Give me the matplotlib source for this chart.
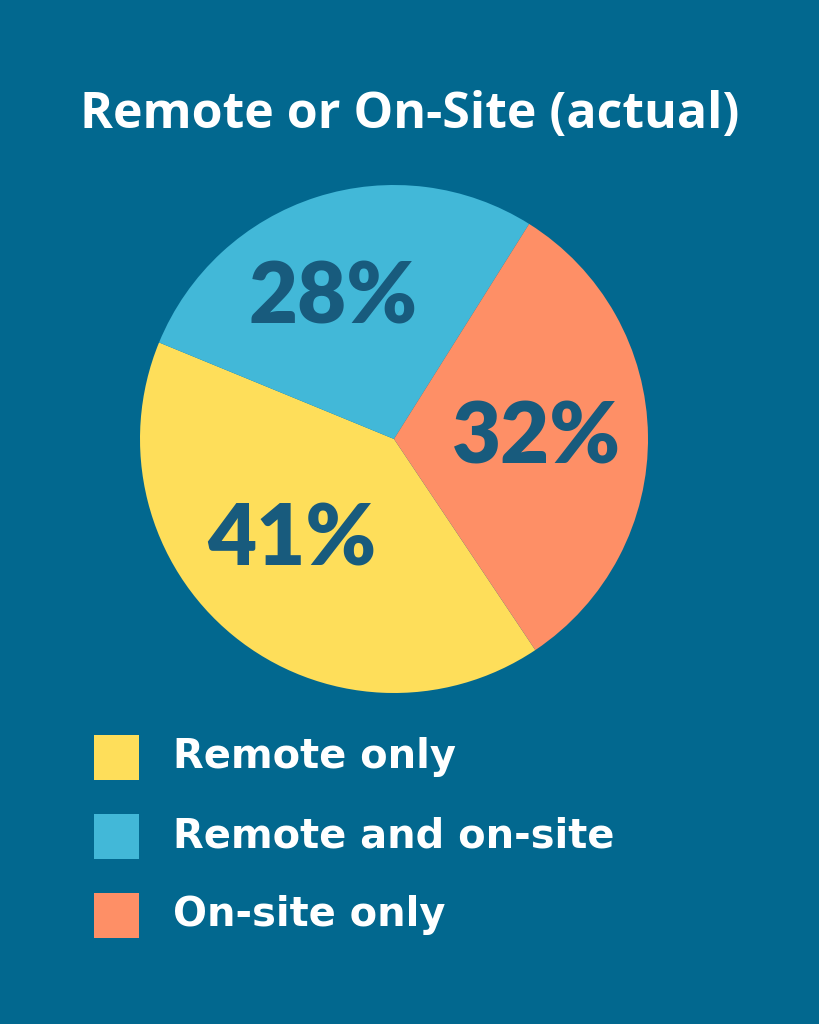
import matplotlib.pyplot as plt
from matplotlib.patches import Rectangle

# ---- data ----
labels = ["Remote only", "Remote and on-site", "On-site only"]
shares = [41, 28, 32]
colors = ["#FEDE5A", "#42B8D8", "#FE8F66"]

title = "Remote or On-Site (actual)"
bg = "#02688F"
label_color = "#185B7D"

W, H = 819, 1024
fig = plt.figure(figsize=(W / 100, H / 100), dpi=100, facecolor=bg)
ax = fig.add_axes([0, 0, 1, 1])
ax.set_xlim(0, W)
ax.set_ylim(0, H)
ax.set_aspect("equal")
ax.axis("off")

total = sum(shares)
wedges, _, autotexts = ax.pie(
    shares, colors=colors, center=(394, H - 439), radius=254,
    startangle=-56.2, counterclock=False,
    autopct=lambda p: f"{round(p * total / 100)}%", pctdistance=0.58,
    textprops=dict(color=label_color, fontsize=61, fontweight="heavy",
                   family="Lato"),
    wedgeprops=dict(linewidth=0),
)
# nudge the percentage labels to where the reference has them
for t, (x, y) in zip(autotexts, [(292, 541), (333, 299), (537, 439)]):
    t.set_position((x, H - y))
ax.set_xlim(0, W)
ax.set_ylim(0, H)

ax.text(410, H - 115, title, ha="center", va="center", color="white",
        fontsize=36, fontweight="bold", family="Open Sans")

# ---- legend ----
for i, (lab, c) in enumerate(zip(labels, colors)):
    y = H - (757 + i * 79)
    ax.add_patch(Rectangle((94, y - 22.5), 45, 45, facecolor=c, lw=0))
    ax.text(173, y, lab, ha="left", va="center", color="white",
            fontsize=28.8, fontweight="bold", family="DejaVu Sans")

fig.savefig("out.png", dpi=100, facecolor=bg)
